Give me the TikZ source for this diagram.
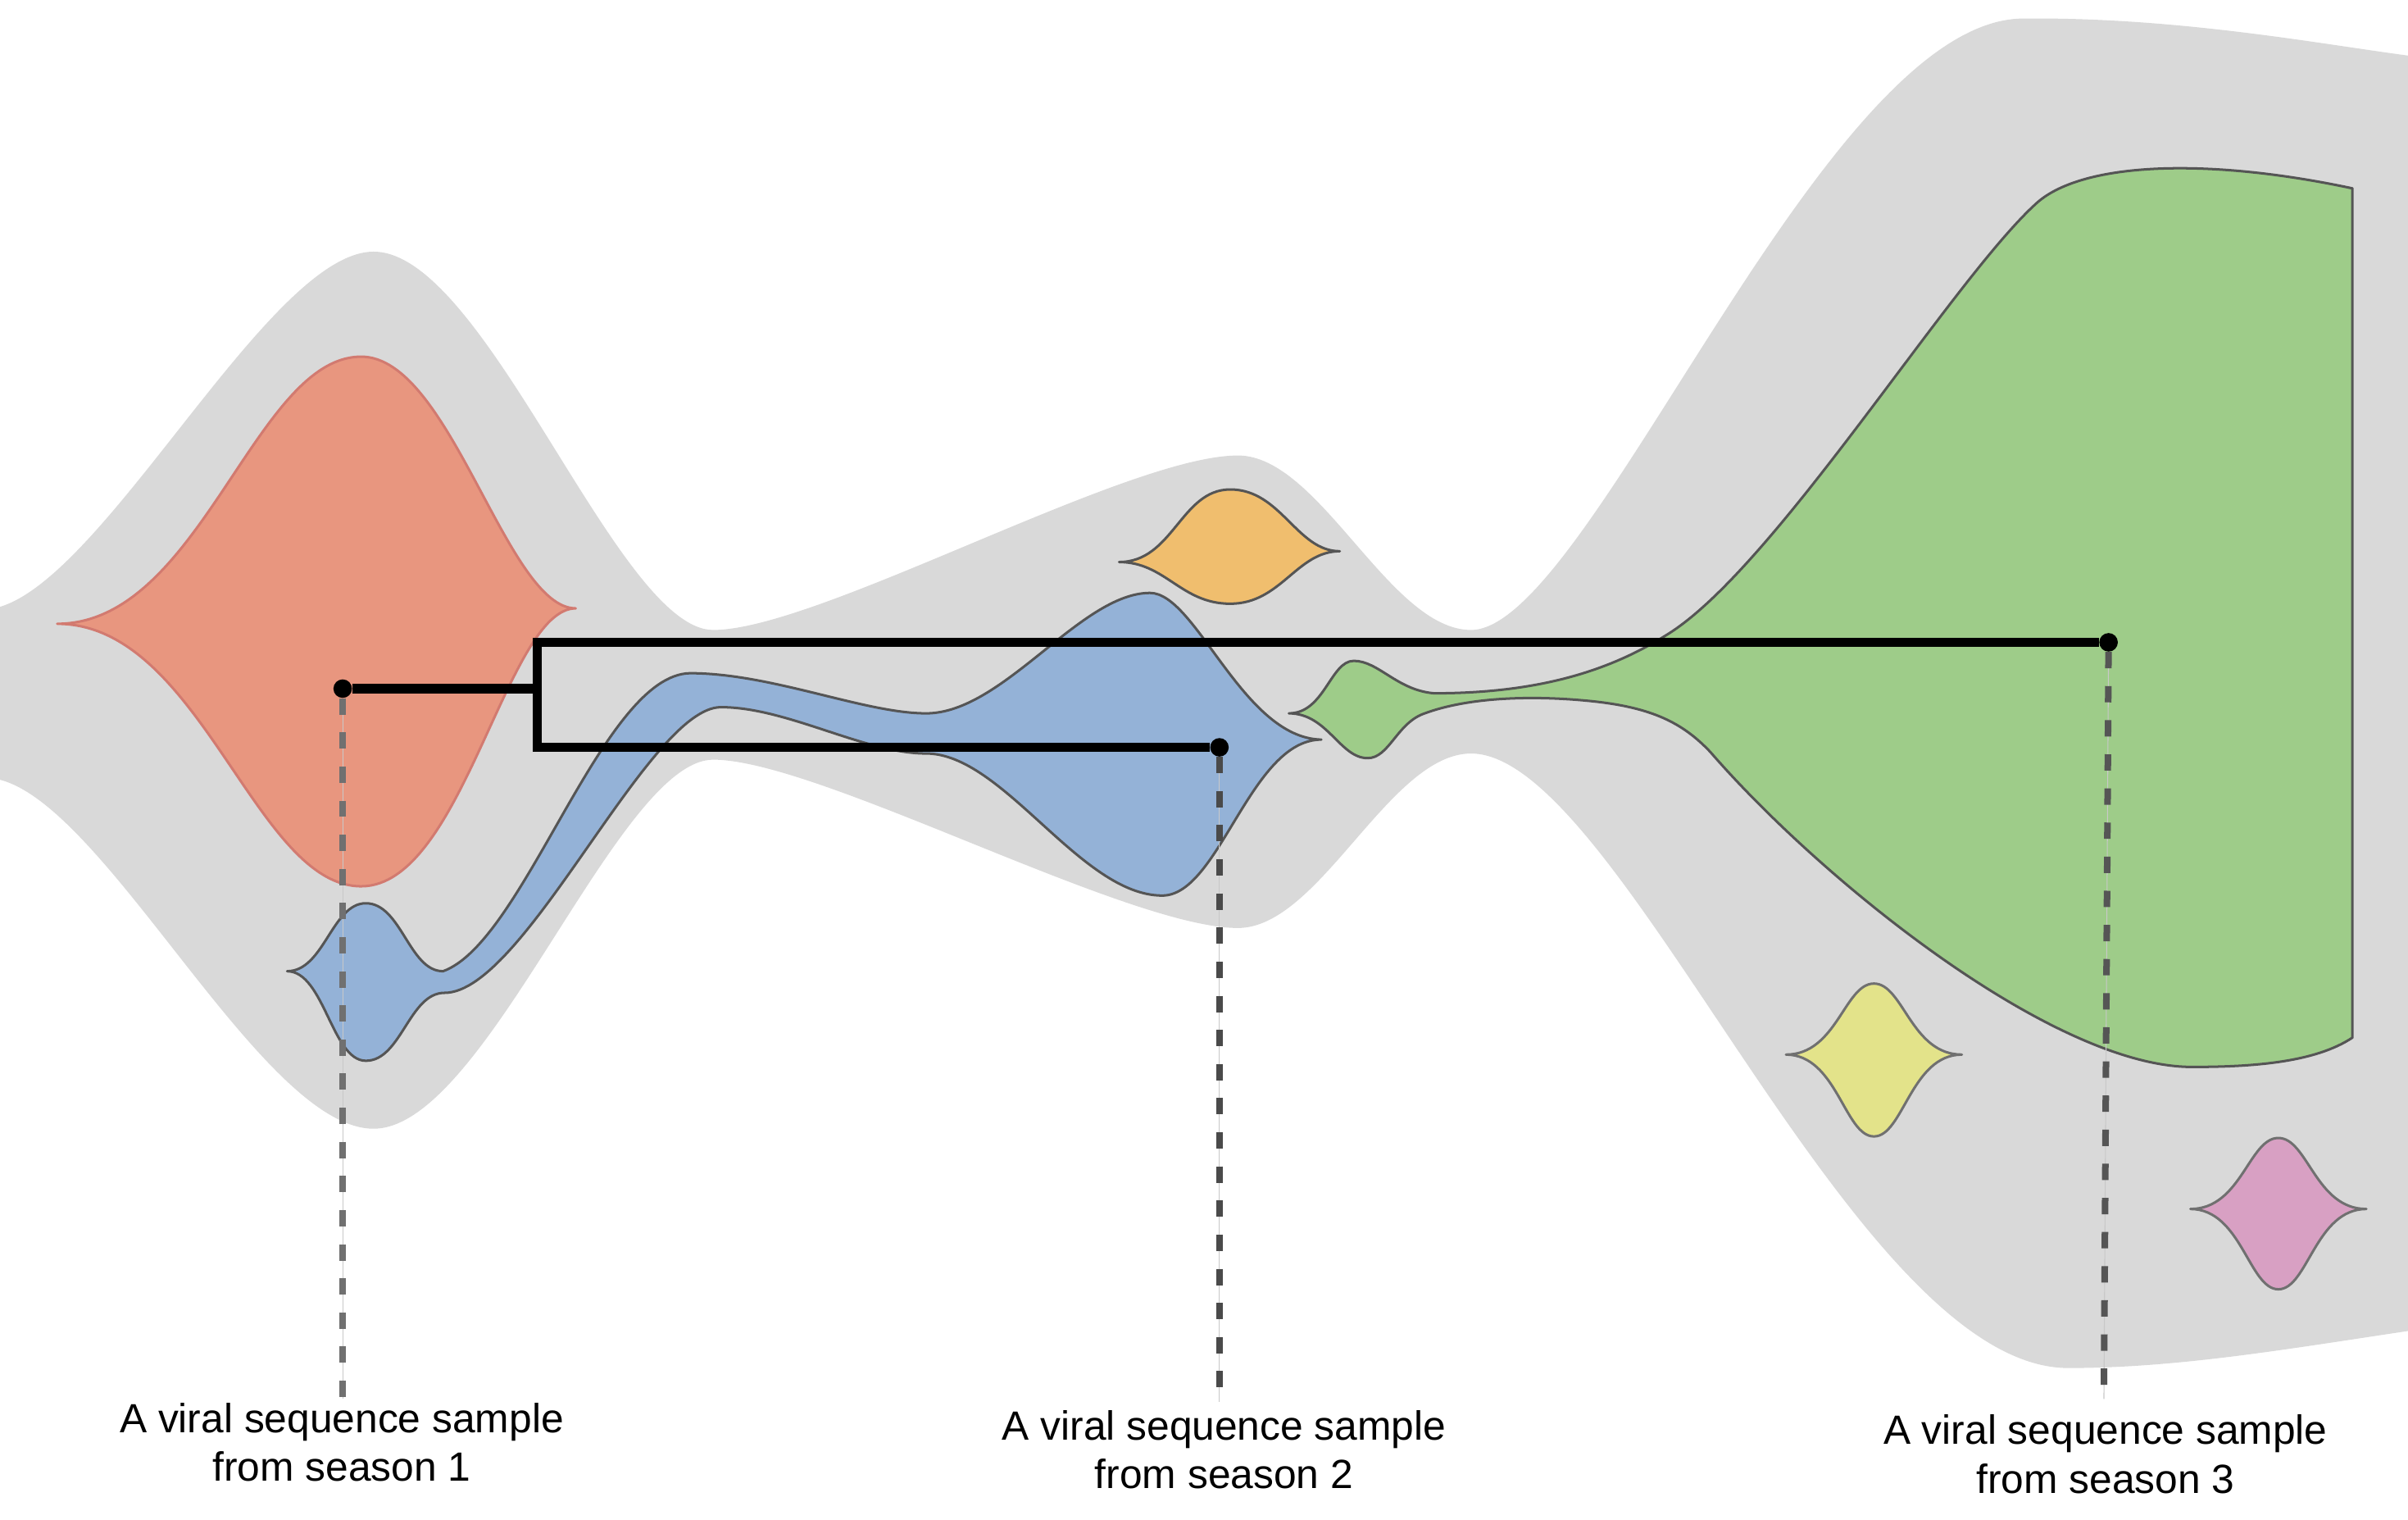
\documentclass[tikz,border=0pt]{standalone}
\usepackage{fontspec}
\setmainfont{Liberation Sans}
\definecolor{bandgrey}{HTML}{D9D9D9}
\definecolor{redfill}{HTML}{E8967F}
\definecolor{redline}{HTML}{D27A70}
\definecolor{bluefill}{HTML}{94B2D7}
\definecolor{orangefill}{HTML}{F0BE6E}
\definecolor{greenfill}{HTML}{9ECC89}
\definecolor{yellowfill}{HTML}{E3E38A}
\definecolor{pinkfill}{HTML}{D8A0C3}
\definecolor{outl}{HTML}{555555}
\definecolor{outdark}{HTML}{4A4A4A}
\definecolor{outlight}{HTML}{707070}
\definecolor{thinline}{HTML}{C8C8C8}
\begin{document}
\begin{tikzpicture}[x=1pt,y=-1pt,
  band/.style={fill=bandgrey,draw=none},
  blob/.style={draw=outl,line width=1.6pt,line join=round},
  tree/.style={line width=6pt,draw=black},
  dotn/.style={circle,fill=black,draw=none,inner sep=0pt,minimum size=12pt},
  thinl/.style={draw=thinline,line width=0.6pt},
  sdash/.style={line width=4.25pt,dash pattern=on 10.6pt off 11.5pt},
  lbl/.style={align=center,font=\fontsize{26.4}{31.5}\selectfont,inner sep=0pt}]
\useasboundingbox (0,0) rectangle (1560,984.4);
% grey population band
\path[band] (0,393) .. controls (70,372) and (175,163) .. (242,163)
  .. controls (315,163) and (400,408) .. (462,408)
  .. controls (530,408) and (730,295) .. (802,295)
  .. controls (855,295) and (900,408) .. (953,408)
  .. controls (1030,408) and (1180,14) .. (1310,12)
  .. controls (1410,11) and (1500,28) .. (1560,36)
  -- (1560,862)
  .. controls (1480,874) and (1410,886) .. (1340,886)
  .. controls (1200,886) and (1050,488) .. (953,488)
  .. controls (900,488) and (855,601) .. (802,601)
  .. controls (730,601) and (530,492) .. (462,492)
  .. controls (400,492) and (315,731) .. (242,731)
  .. controls (170,731) and (70,523) .. (0,505) -- cycle;
% red clade
\draw[blob,draw=redline,fill=redfill] (37,404)
  .. controls (130,404) and (165,231) .. (234,231)
  .. controls (292,231) and (328,394) .. (373,394)
  .. controls (328,394) and (300,574) .. (234,574)
  .. controls (165,574) and (130,404) .. (37,404) -- cycle;
% blue clade
\draw[blob,fill=bluefill] (186,629)
  .. controls (210,629) and (215,585) .. (237,585)
  .. controls (260,585) and (265,629) .. (287,629)
  .. controls (340,610) and (390,437) .. (447,436)
  .. controls (500,436) and (560,462) .. (600,462)
  .. controls (650,462) and (700,384) .. (745,384)
  .. controls (775,384) and (805,478) .. (856,479)
  .. controls (810,479) and (790,580) .. (753,580)
  .. controls (700,580) and (650,488) .. (600,488)
  .. controls (560,488) and (510,458) .. (467,458)
  .. controls (420,458) and (340,643) .. (288,643)
  .. controls (265,643) and (260,687) .. (237,687)
  .. controls (215,687) and (210,629) .. (186,629) -- cycle;
% orange clade
\draw[blob,fill=orangefill] (725,364)
  .. controls (760,364) and (765,317) .. (797,317)
  .. controls (830,317) and (840,357) .. (868,357)
  .. controls (840,357) and (830,391) .. (797,391)
  .. controls (765,391) and (755,364) .. (725,364) -- cycle;
% green clade
\draw[blob,fill=greenfill] (835,462)
  .. controls (858,462) and (862,428) .. (877,428)
  .. controls (893,428) and (905,447) .. (929,449)
  .. controls (1000,449) and (1045,433) .. (1080,411)
  .. controls (1150,368) and (1265,180) .. (1320,131)
  .. controls (1350,105) and (1430,102) .. (1524,122)
  -- (1524,672)
  .. controls (1500,688) and (1460,691) .. (1420,691)
  .. controls (1330,691) and (1180,570) .. (1108,487)
  .. controls (1090,468) and (1070,458) .. (1030,454)
  .. controls (990,450) and (950,452) .. (923,462)
  .. controls (905,468) and (900,491) .. (886,491)
  .. controls (868,491) and (860,462) .. (835,462) -- cycle;
% yellow clade
\draw[blob,draw=outlight,fill=yellowfill] (1157,683)
  .. controls (1190,683) and (1195,637) .. (1214,637)
  .. controls (1233,637) and (1238,683) .. (1271,683)
  .. controls (1238,683) and (1233,736) .. (1214,736)
  .. controls (1195,736) and (1190,683) .. (1157,683) -- cycle;
% pink clade
\draw[blob,draw=outlight,fill=pinkfill] (1419,783)
  .. controls (1452,783) and (1457,737) .. (1476,737)
  .. controls (1495,737) and (1500,783) .. (1533,783)
  .. controls (1500,783) and (1495,835) .. (1476,835)
  .. controls (1457,835) and (1452,783) .. (1419,783) -- cycle;
% sample points
\node[dotn] (d1) at (222,446) {};
\node[dotn] (d2) at (790,484) {};
\node[dotn] (d3) at (1366,416) {};
\coordinate (j1) at (348,446);
\coordinate (jt) at (348,416);
\coordinate (jb) at (348,484);
\coordinate (e1) at (222,906);
\coordinate (e2) at (790,908);
\coordinate (e3) at (1363,906);
% sample lines
\draw[thinl] (d1) -- (e1);
\draw[thinl] (d2) -- (e2);
\draw[thinl] (d3) -- (e3);
\draw[sdash,draw=outlight] (d1) -- (e1);
\draw[sdash,draw=outdark] (d2) -- (e2);
\draw[sdash,draw=outl] (d3) -- (e3);
% tree
\draw[tree] (d1) -- (j1);
\draw[tree] (d3) -- (jt) -- (jb) -- (d2);
% labels
\node[lbl,anchor=base] (t1) at (221.4,959.1) {A viral sequence sample\\from season 1};
\node[lbl,anchor=base] (t2) at (793,963.9) {A viral sequence sample\\from season 2};
\node[lbl,anchor=base] (t3) at (1364,967) {A viral sequence sample\\from season 3};
\end{tikzpicture}
\end{document}
